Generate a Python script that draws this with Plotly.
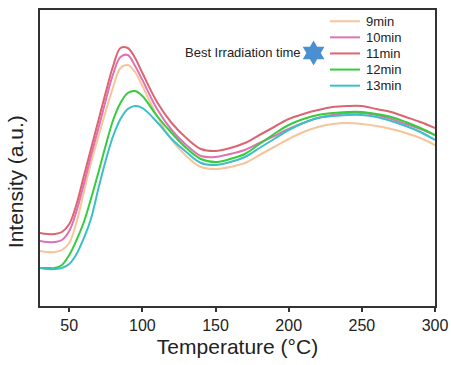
import plotly.graph_objects as go

# Temperature grid (°C)
temperature = [30, 35, 40, 45, 50, 55, 60, 65, 70, 75, 80, 85, 90, 95, 100,
               110, 120, 130, 140, 150, 160, 170, 180, 190, 200, 210, 220,
               230, 240, 250, 260, 270, 280, 290, 300]

# Intensity (a.u.) per irradiation time
i_9min = [55, 54, 54, 56, 63, 84, 114, 144, 170, 195, 219, 238, 241, 234, 220,
          190, 166, 150, 139, 137, 139, 143, 151, 159, 167, 174, 179,
          182, 183, 182, 180, 177, 173, 168, 161]
i_10min = [65, 64, 64, 66, 75, 95, 122, 151, 178, 206, 232, 249, 251, 240, 226,
           197, 176, 161, 150, 149, 152, 156, 163, 170, 177, 183, 188,
           191, 193, 193, 191, 187, 182, 177, 171]
i_11min = [73, 72, 72, 74, 82, 102, 130, 158, 186, 214, 240, 258, 258, 248, 233,
           204, 183, 168, 157, 155, 158, 163, 171, 179, 187, 192, 196,
           199, 200, 200, 197, 194, 189, 184, 178]
i_12min = [38, 38, 38, 41, 51, 66, 84, 108, 134, 161, 186, 203, 213, 215, 210,
           190, 173, 158, 147, 144, 147, 152, 162, 172, 181, 187, 191,
           193, 194, 194, 192, 189, 184, 178, 171]
i_13min = [38, 37, 37, 38, 42, 52, 68, 88, 118, 146, 170, 187, 197, 200, 198,
           184, 167, 154, 143, 141, 144, 149, 158, 167, 176, 183, 188,
           190, 191, 191, 189, 185, 180, 174, 166]

series_names = ["9min", "10min", "11min", "12min", "13min"]
series_values = [i_9min, i_10min, i_11min, i_12min, i_13min]
series_colors = ["#F7C49C", "#DE72B2", "#DB6570", "#35CC3D", "#3CBFC6"]

x_ticks = [50, 100, 150, 200, 250, 300]

# Star marker location (best irradiation time) in data units
best_T = [217]
best_I = [253]

FONT = "Liberation Sans, Arial, sans-serif"

fig = go.Figure()
for name, vals, col in zip(series_names, series_values, series_colors):
    fig.add_trace(go.Scatter(x=temperature, y=vals, mode="lines", name=name,
                             line=dict(color=col, width=2, shape="spline", smoothing=1.0),
                             showlegend=False))

fig.add_trace(go.Scatter(x=best_T, y=best_I, mode="markers", showlegend=False,
                         marker=dict(symbol="hexagram", size=19, color="#4A8FD2",
                                     line=dict(width=0))))

# Manual legend (paper coordinates)
shapes = []
annotations = []
x0, x1, xt = 0.734, 0.810, 0.820
ytop, step = 0.962, 0.0544
for k, (name, col) in enumerate(zip(series_names, series_colors)):
    yy = ytop - k * step
    shapes.append(dict(type="line", xref="paper", yref="paper", x0=x0, x1=x1,
                       y0=yy, y1=yy, line=dict(color=col, width=2)))
    annotations.append(dict(xref="paper", yref="paper", x=xt, y=yy, text=name,
                            showarrow=False, xanchor="left", yanchor="middle",
                            font=dict(family=FONT, size=13, color="#222")))

annotations.append(dict(xref="paper", yref="paper", x=0.665, y=0.856,
                        text="Best Irradiation time", showarrow=False,
                        xanchor="right", yanchor="middle",
                        font=dict(family=FONT, size=13, color="#222")))
annotations.append(dict(xref="paper", yref="paper", x=-0.062, y=0.42,
                        text="Intensity (a.u.)", showarrow=False, textangle=-90,
                        xanchor="center", yanchor="middle",
                        font=dict(family=FONT, size=21, color="#222")))

fig.update_layout(
    width=451, height=365,
    margin=dict(l=40, r=16, t=10, b=59, autoexpand=False),
    paper_bgcolor="white", plot_bgcolor="white",
    shapes=shapes, annotations=annotations,
    xaxis=dict(range=[30, 300], tickvals=x_ticks, ticks="outside", ticklen=4,
               tickwidth=1.5, tickcolor="#333", showline=True, linecolor="#333",
               linewidth=1.5, mirror=True, showgrid=False, zeroline=False,
               automargin=False,
               tickfont=dict(family=FONT, size=16, color="#222"),
               title=dict(text="Temperature (°C)", standoff=6,
                          font=dict(family=FONT, size=21, color="#222"))),
    yaxis=dict(range=[0, 296], showticklabels=False, ticks="", showline=True,
               linecolor="#333", linewidth=1.5, mirror=True, showgrid=False,
               zeroline=False, automargin=False),
)

fig.write_html("out.html")
